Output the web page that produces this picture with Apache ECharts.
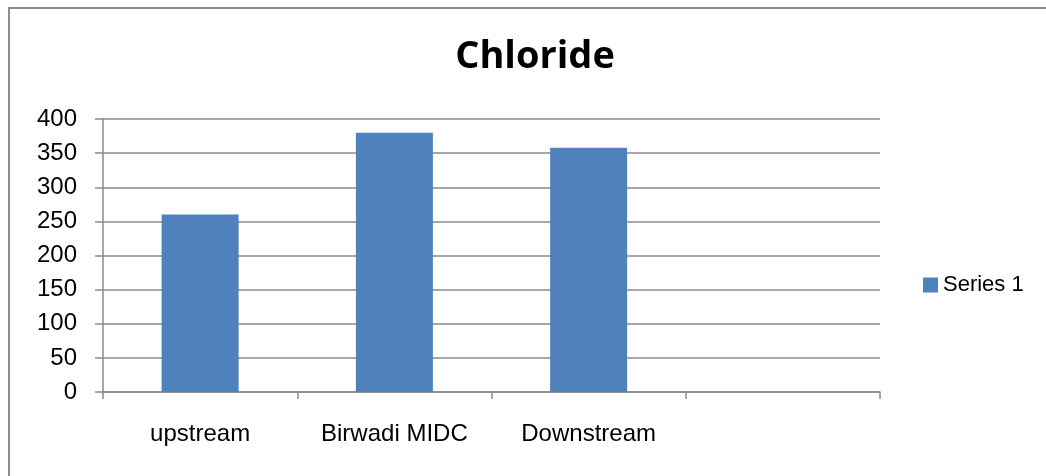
<!DOCTYPE html>
<html>
<head>
<meta charset="utf-8">
<title>Chloride</title>
<script src="https://cdn.jsdelivr.net/npm/echarts@6/dist/echarts.min.js"></script>
<style>
  html, body { margin: 0; padding: 0; background: #fff; }
  #chart { width: 1046px; height: 476px; }
</style>
</head>
<body>
<div id="chart"></div>
<script>
// 数据
const categories = ['upstream', 'Birwadi MIDC', 'Downstream', '']
const seriesName = 'Series 1'
const values = [260, 380, 358, null]
const yTicks = [0, 50, 100, 150, 200, 250, 300, 350, 400]

const chart = echarts.init(document.getElementById('chart'))

const option = {
  animation: false,
  backgroundColor: '#fff',
  title: {
    text: 'Chloride',
    left: 530,
    textAlign: 'center',
    top: 33,
    textStyle: {
      fontFamily: 'Open Sans, Liberation Sans, sans-serif',
      fontWeight: 'bold',
      fontSize: 38,
      color: '#000',
    },
  },
  legend: {
    data: [seriesName],
    left: 918,
    top: 269,
    itemWidth: 15,
    itemHeight: 15,
    itemGap: 7,
    icon: 'rect',
    textStyle: {
      fontFamily: 'Liberation Sans, sans-serif',
      fontSize: 22,
      color: '#000',
    },
  },
  grid: {
    left: 103,
    right: 166,
    top: 119,
    bottom: 84,
  },
  xAxis: {
    type: 'category',
    data: categories,
    axisLine: { lineStyle: { color: '#8a8a8a', width: 1.5 } },
    axisTick: { show: true, length: 7, interval: 0, lineStyle: { color: '#8a8a8a', width: 1.5 } },
    axisLabel: {
      interval: 0,
      margin: 30,
      fontFamily: 'Liberation Sans, sans-serif',
      fontSize: 24,
      color: '#000',
    },
  },
  yAxis: {
    type: 'value',
    min: yTicks[0],
    max: yTicks[yTicks.length - 1],
    interval: yTicks[1] - yTicks[0],
    axisLine: { show: true, lineStyle: { color: '#8a8a8a', width: 1.5 } },
    axisTick: { show: true, length: 8, lineStyle: { color: '#8a8a8a', width: 1.5 } },
    axisLabel: {
      margin: 26,
      fontFamily: 'Liberation Sans, sans-serif',
      fontSize: 24,
      color: '#000',
    },
    splitLine: { lineStyle: { color: '#8a8a8a', width: 1.5 } },
  },
  series: [
    {
      name: seriesName,
      type: 'bar',
      data: values,
      barWidth: 77,
      itemStyle: { color: '#4f81bd' },
    },
  ],
  graphic: [
    {
      type: 'rect',
      shape: { x: 9, y: 8, width: 1100, height: 600 },
      style: { fill: 'none', stroke: '#8c8c8c', lineWidth: 2 },
      silent: true,
    },
  ],
}
chart.setOption(option)
</script>
</body>
</html>
